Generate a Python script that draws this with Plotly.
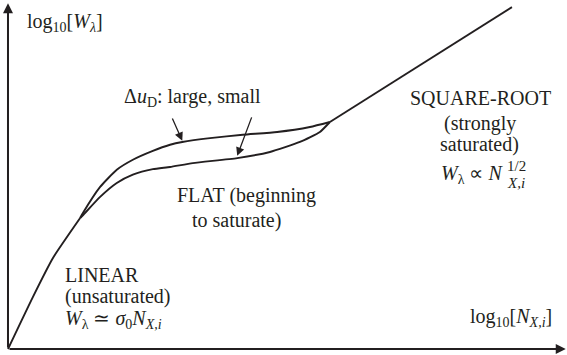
import plotly.graph_objects as go

# Curve of growth: log10 of equivalent width vs log10 of column density
# Shared linear (unsaturated) branch
lin_logN = [0.00, 0.45, 0.81, 1.30]
lin_logW = [0.00, 0.94, 1.64, 2.36]

# Flat branch for large Doppler width
large_logN = [1.30, 1.35, 1.66, 1.96, 2.25, 2.61, 2.92, 3.14, 3.64, 4.23, 4.85, 5.44, 5.80]
large_logW = [2.36, 2.45, 2.92, 3.23, 3.41, 3.57, 3.68, 3.73, 3.80, 3.86, 3.91, 4.00, 4.09]

# Flat branch for small Doppler width
small_logN = [1.30, 1.35, 1.66, 1.96, 2.25, 2.61, 2.92, 3.33, 4.13, 4.72, 5.26, 5.62, 5.80]
small_logW = [2.36, 2.41, 2.74, 2.99, 3.14, 3.24, 3.28, 3.35, 3.44, 3.55, 3.73, 3.91, 4.09]

# Square-root (strongly saturated) branch
sqrt_logN = [5.80, 9.08]
sqrt_logW = [4.09, 6.16]

# Axis extents
x_max = 10.05
y_max = 6.23

ink = "#231f20"
font = "Times New Roman"
line = dict(color=ink, width=1.9, shape="spline", smoothing=0.5)

fig = go.Figure()
for xs, ys in [(lin_logN, lin_logW), (large_logN, large_logW),
               (small_logN, small_logW), (sqrt_logN, sqrt_logW)]:
    fig.add_trace(go.Scatter(x=xs, y=ys, mode="lines", line=line,
                             showlegend=False, hoverinfo="skip"))


def arrow(x0, y0, x1, y1, width, head=2, size=1.0):
    fig.add_annotation(x=x1, y=y1, ax=x0, ay=y0, xref="x", yref="y",
                       axref="x", ayref="y", text="", showarrow=True,
                       arrowhead=head, arrowsize=size, arrowwidth=width,
                       arrowcolor=ink, standoff=0, startstandoff=0)


# Axes with arrowheads
arrow(0, 0, x_max, 0, 2.0)
arrow(0, 0, 0, y_max, 2.0)

# Pointers to the two flat branches
arrow(2.95, 4.18, 3.14, 3.75, 1.3, size=1.3)
arrow(4.40, 4.20, 4.13, 3.48, 1.3, size=1.3)


def label(x, y, text, anchor="left", size=20):
    fig.add_annotation(x=x, y=y, xref="x", yref="y", text=text,
                       showarrow=False, xanchor=anchor, yanchor="middle",
                       font=dict(family=font, size=size, color=ink))


label(0.31, 5.89, "log<sub>10</sub>[<i>W<sub>λ</sub></i>]")
label(8.29, 0.56, "log<sub>10</sub>[<i>N<sub>X,i</sub></i>]")
label(2.05, 4.54, "Δ<i>u</i><sub>D</sub>: large, small")

label(8.52, 4.52, "SQUARE-ROOT", "center")
label(8.50, 4.07, "(strongly", "center")
label(8.50, 3.68, "saturated)", "center")
label(8.95, 3.14, "<i>W</i><sub>λ</sub> ∝ <i>N</i>", "right")
label(8.95, 3.29, "1/2", size=15)
label(8.95, 3.00, "<i>X,i</i>", size=15)

label(3.01, 2.77, "FLAT (beginning")
label(3.28, 2.32, "to saturate)")

label(0.99, 1.33, "LINEAR")
label(0.99, 0.94, "(unsaturated)")
label(0.99, 0.54, "<i>W</i><sub>λ</sub> ≃ <i>σ</i><sub>0</sub><i>N<sub>X,i</sub></i>")

fig.update_layout(
    width=567, height=355,
    margin=dict(l=0, r=0, t=0, b=0),
    paper_bgcolor="white", plot_bgcolor="white",
    font=dict(family=font, color=ink),
    xaxis=dict(range=[-0.144, 10.072], visible=False, fixedrange=True),
    yaxis=dict(range=[-0.108, 6.288], visible=False, fixedrange=True),
)

fig.write_html("out.html", config={"displayModeBar": False})
